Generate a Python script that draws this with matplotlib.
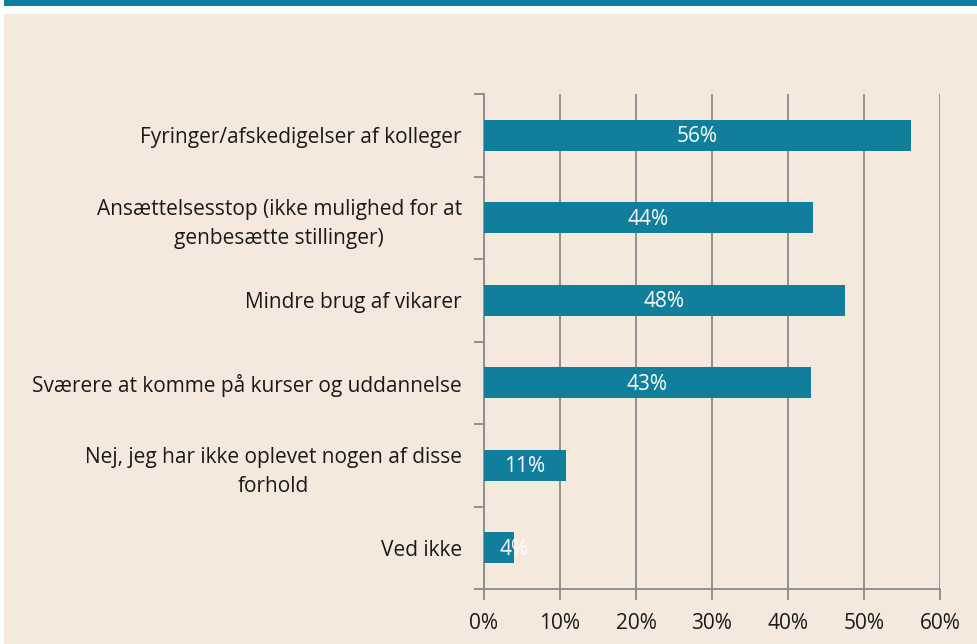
import matplotlib
matplotlib.use("Agg")
import matplotlib.pyplot as plt
from matplotlib.patches import Rectangle

categories = [
    "Fyringer/afskedigelser af kolleger",
    "Ansættelsesstop (ikke mulighed for at\ngenbesætte stillinger)",
    "Mindre brug af vikarer",
    "Sværere at komme på kurser og uddannelse",
    "Nej, jeg har ikke oplevet nogen af disse\nforhold",
    "Ved ikke",
]
values = [56.2, 43.3, 47.5, 43.0, 10.8, 3.9]
labels = ["56%", "44%", "48%", "43%", "11%", "4%"]
xticks = [0, 10, 20, 30, 40, 50, 60]
xticklabels = ["0%", "10%", "20%", "30%", "40%", "50%", "60%"]

plt.rcParams['font.family'] = ['Open Sans', 'DejaVu Sans']

W, H = 978, 644
fig = plt.figure(figsize=(W / 100, H / 100), dpi=100)
fig.patch.set_facecolor("white")

# background panels
fig.patches.append(Rectangle((4 / W, 0), 1 - 4 / W, (H - 14) / H, transform=fig.transFigure,
                             facecolor="#f5e8dc", edgecolor="none", zorder=-2))
fig.patches.append(Rectangle((4 / W, (H - 6) / H), 1 - 4 / W, 6 / H, transform=fig.transFigure,
                             facecolor="#0f7e9b", edgecolor="none", zorder=-2))

left, right, top, bottom = 484, 940, 94, 589
ax = fig.add_axes([left / W, 1 - bottom / H, (right - left) / W, (bottom - top) / H])
ax.set_zorder(2)
ax.set_facecolor("none")

n = len(categories)
ypos = list(range(n))
ax.barh(ypos, values, height=0.375, color="#117f9b", zorder=3)
ax.set_ylim(n - 0.5, -0.5)
ax.set_xlim(0, 60)

for y, v, lab in zip(ypos, values, labels):
    x = v / 2 if v > 8 else v
    ax.text(x, y + 0.02, lab, ha="center", va="center", color="white", fontsize=15, zorder=4)

ax.set_xticks(xticks)
ax.set_xticklabels(xticklabels, fontsize=15, color="#1a1a1a")
ax.set_yticks([i - 0.5 for i in range(n + 1)], minor=False)
ax.set_yticklabels([])
ax.set_yticks(ypos, minor=True)
ax.set_yticklabels(categories, minor=True, fontsize=15, color="#1a1a1a", ha="right")
ax.tick_params(axis="y", which="minor", length=0, pad=16)
ax.tick_params(axis="y", which="major", length=7, width=1.3, color="#8c8c8c", direction="out")
ax.tick_params(axis="x", length=8, width=1.3, color="#8c8c8c", direction="out", pad=9)
for lab in ax.get_yticklabels(minor=True):
    lab.set_multialignment("center")
    lab.set_linespacing(1.5)

ax.grid(axis="x", color="#8c8c8c", linewidth=1.3, zorder=1)
ax.set_axisbelow(True)
for s in ["top", "right"]:
    ax.spines[s].set_visible(False)
for s in ["left", "bottom"]:
    ax.spines[s].set_color("#8c8c8c")
    ax.spines[s].set_linewidth(1.3)

fig.savefig("out.png", dpi=100, facecolor=fig.get_facecolor())
